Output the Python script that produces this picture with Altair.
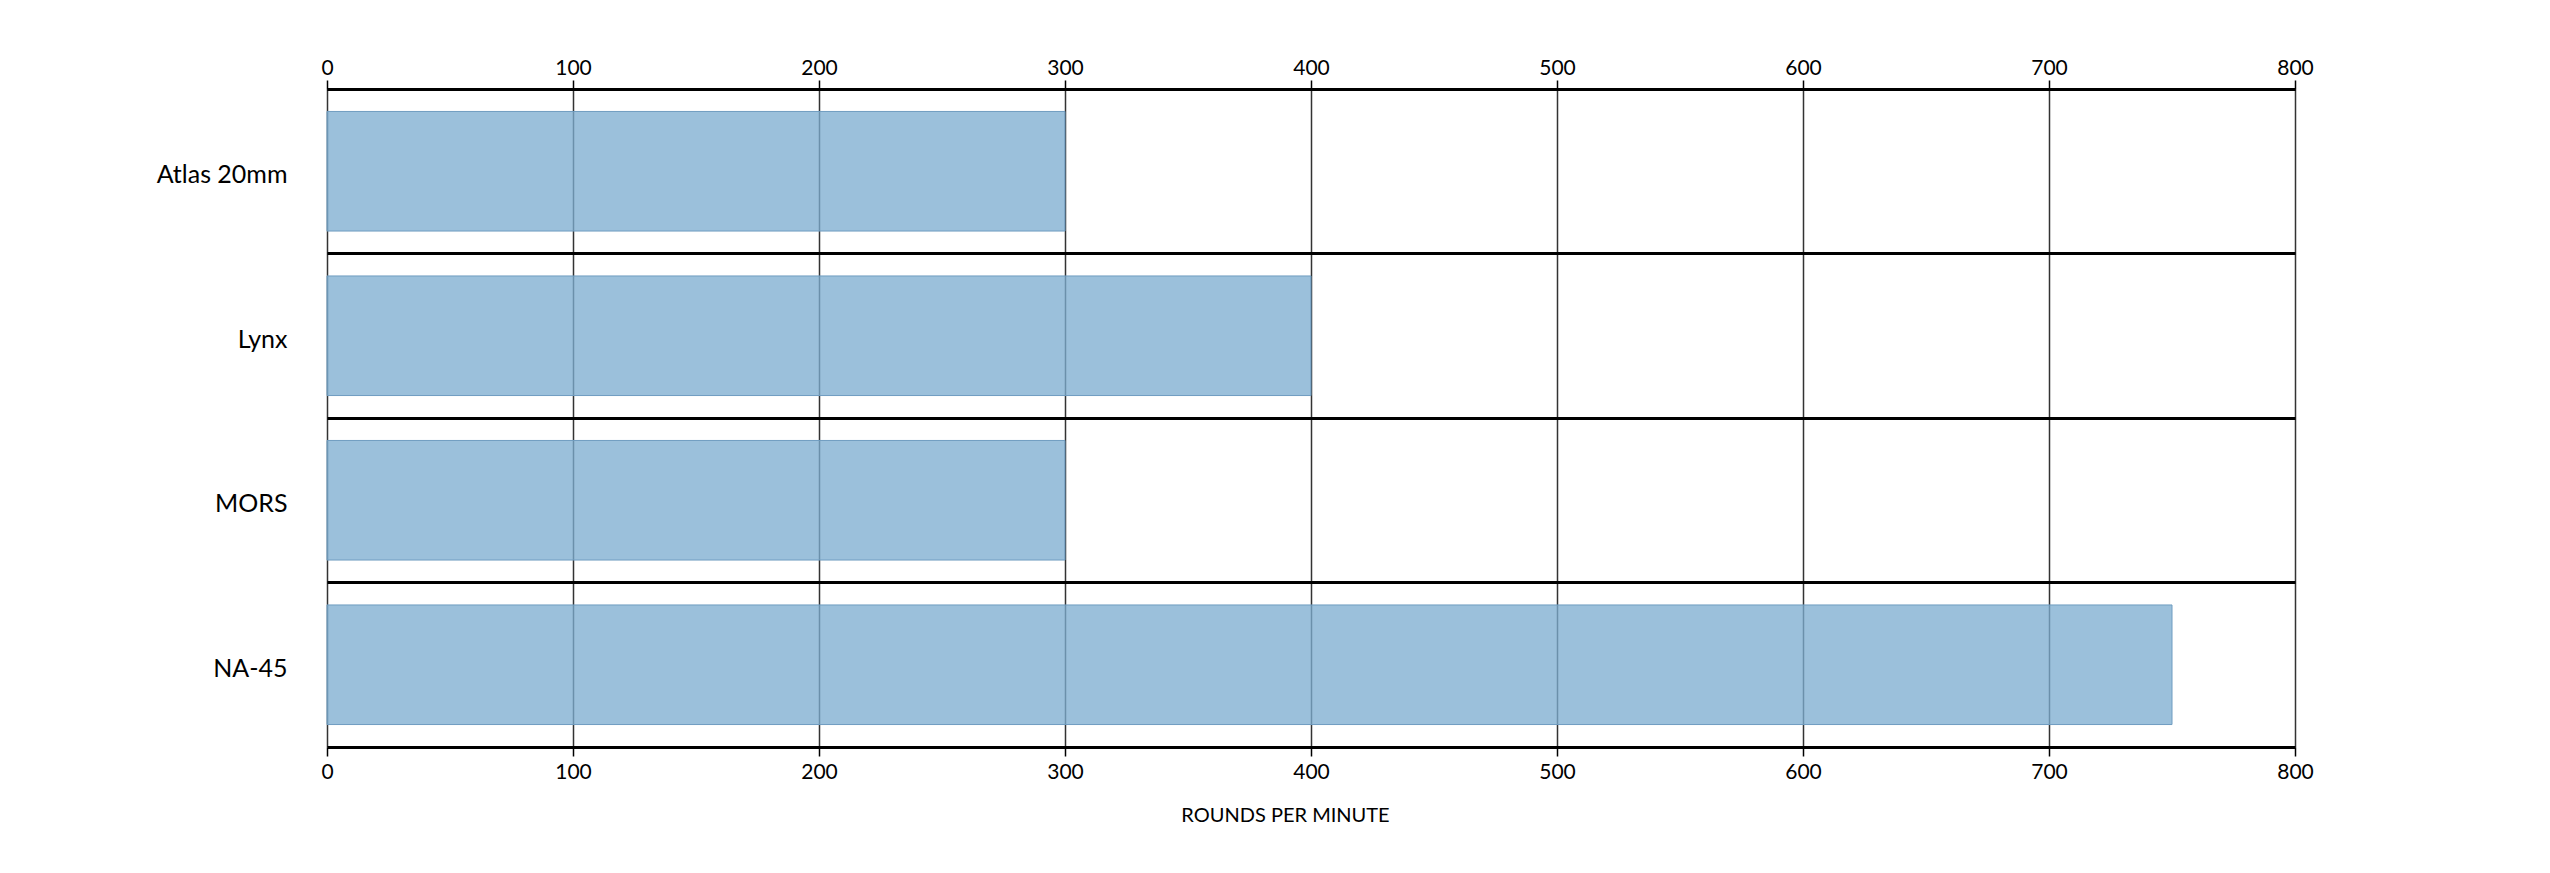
import altair as alt
import pandas as pd

names = ["Atlas 20mm", "Lynx", "MORS", "NA-45"]
rpm = [300, 400, 300, 750]
tick_values = [0, 100, 200, 300, 400, 500, 600, 700, 800]

df = pd.DataFrame({"name": names, "rpm": rpm})

FONT = "Lato"

xscale = alt.Scale(domain=[0, 800], nice=False, zero=True)
yscale = alt.Scale(paddingInner=0, paddingOuter=0)

yaxis = alt.Axis(
    title=None,
    ticks=False,
    domain=False,
    labelPadding=40,
    labelFontSize=25,
    labelFont=FONT,
    labelColor="black",
    labelOffset=4,
    grid=True,
    bandPosition=0,
    gridColor="black",
    gridWidth=3,
)

def xaxis(orient, with_grid, title, label_padding):
    kw = dict(
        orient=orient,
        values=tick_values,
        grid=with_grid,
        domainColor="black",
        domainWidth=3,
        tickColor="black",
        tickWidth=1.5,
        tickSize=9,
        labelFontSize=21,
        labelColor="black",
        labelFont=FONT,
        labelPadding=label_padding,
        labelFlush=False,
    )
    if with_grid:
        kw.update(gridColor="#333333", gridWidth=1.5)
    if title:
        kw.update(
            title=title,
            titleFont=FONT,
            titleFontSize=20,
            titleFontWeight="normal",
            titleColor="black",
            titlePadding=23,
            titleX=958,
            titleAlign="center",
        )
    else:
        kw.update(title=None)
    return alt.Axis(**kw)

bars = alt.Chart(df).mark_bar(
    height={"band": 0.727},
    fill="#7dadd0",
    fillOpacity=0.77,
    stroke="#6f9cc0",
    strokeWidth=1,
).encode(
    x=alt.X("rpm:Q", scale=xscale, axis=xaxis("bottom", True, "ROUNDS PER MINUTE", 5)),
    y=alt.Y("name:N", sort=names, scale=yscale, axis=yaxis),
)

top = alt.Chart(df).mark_bar(opacity=0).encode(
    x=alt.X("rpm:Q", scale=xscale, axis=xaxis("top", False, None, 2)),
    y=alt.Y("name:N", sort=names, scale=yscale, axis=yaxis),
)

chart = alt.layer(bars, top).resolve_axis(x="independent").properties(
    width=1968,
    height=658,
    autosize="none",
    padding={"left": 319, "top": 81, "right": 240, "bottom": 110},
).configure_view(stroke=None).configure(background="white")

chart.save("out.html", embed_options={"renderer": "svg", "actions": False})
